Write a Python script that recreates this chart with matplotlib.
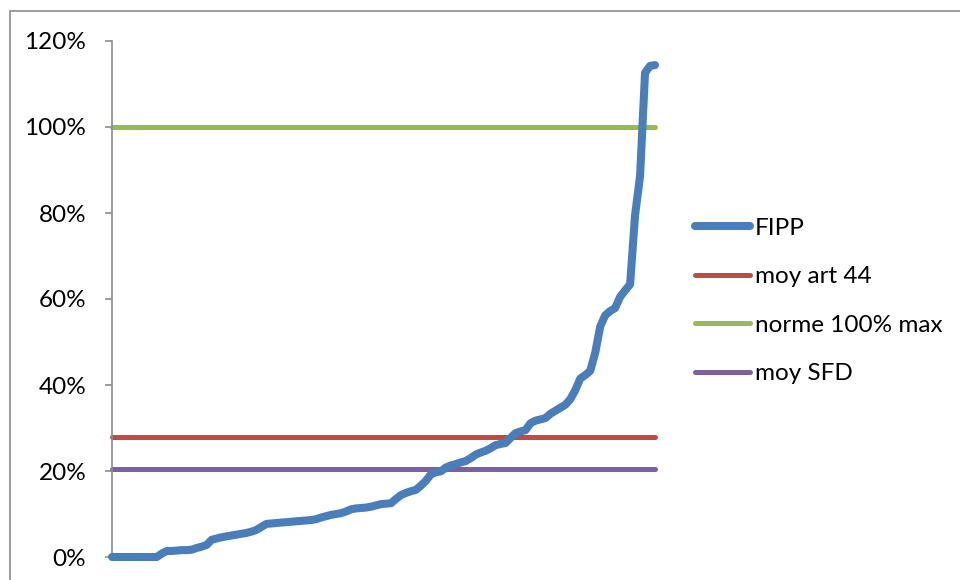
import matplotlib
matplotlib.use("Agg")
import matplotlib.pyplot as plt
from matplotlib.patches import Rectangle
from matplotlib.ticker import FuncFormatter, MultipleLocator

# FIPP ratio per entity, sorted ascending (fraction of the norm)
fipp = [
    0.000, 0.000, 0.000, 0.000, 0.000, 0.000, 0.000, 0.000, 0.000, 0.000,
    0.008, 0.014, 0.014, 0.015, 0.016, 0.016, 0.017, 0.021, 0.024, 0.028,
    0.040, 0.043, 0.046, 0.048, 0.050, 0.052, 0.054, 0.056, 0.059, 0.063,
    0.070, 0.077, 0.078, 0.079, 0.080, 0.081, 0.082, 0.083, 0.084, 0.085,
    0.086, 0.088, 0.092, 0.095, 0.098, 0.100, 0.102, 0.106, 0.111, 0.113,
    0.114, 0.115, 0.117, 0.120, 0.123, 0.124, 0.125, 0.135, 0.144, 0.149,
    0.153, 0.156, 0.166, 0.177, 0.192, 0.197, 0.199, 0.208, 0.213, 0.216,
    0.220, 0.223, 0.230, 0.238, 0.243, 0.247, 0.253, 0.260, 0.263, 0.265,
    0.277, 0.288, 0.292, 0.295, 0.311, 0.317, 0.320, 0.323, 0.333, 0.340,
    0.347, 0.354, 0.367, 0.388, 0.415, 0.423, 0.433, 0.475, 0.536, 0.562,
    0.572, 0.579, 0.605, 0.620, 0.634, 0.795, 0.886, 1.126, 1.142, 1.144,
]
moy_art44 = 0.279
norme_max = 1.00
moy_sfd = 0.205

labels = ["FIPP", "moy art 44", "norme 100% max", "moy SFD"]
colors = ["#4A7EBB", "#BE4B48", "#98B954", "#7D60A0"]

plt.rcParams["font.family"] = ["Lato", "DejaVu Sans"]
FS = 17.5

W, H = 960, 580
fig = plt.figure(figsize=(W / 100, H / 100), dpi=100)
fig.patch.set_facecolor("white")

# chart area border
fig.patches.append(Rectangle((10 / W, -10 / H), 970 / W, (H - 11 + 10) / H,
                             transform=fig.transFigure, fill=False,
                             edgecolor="#8C8C8C", linewidth=1.2))

ax = fig.add_axes([112 / W, (H - 557) / H, (655 - 112) / W, (557 - 41) / H])
ax.set_facecolor("none")

x = list(range(len(fipp)))
n = len(fipp)

ax.plot(x, fipp, color=colors[0], lw=5.8, solid_capstyle="round",
        solid_joinstyle="round", clip_on=False, label=labels[0], zorder=3)
ax.plot(x, [moy_art44] * n, color=colors[1], lw=3.6, solid_capstyle="round",
        clip_on=False, label=labels[1], zorder=2)
ax.plot(x, [norme_max] * n, color=colors[2], lw=3.6, solid_capstyle="round",
        clip_on=False, label=labels[2], zorder=2)
ax.plot(x, [moy_sfd] * n, color=colors[3], lw=3.6, solid_capstyle="round",
        clip_on=False, label=labels[3], zorder=2)

ax.set_xlim(0, n - 1)
ax.set_ylim(0, 1.2)
ax.yaxis.set_major_locator(MultipleLocator(0.2))
ax.yaxis.set_major_formatter(FuncFormatter(lambda v, p: f"{v * 100:.0f}%"))
ax.set_xticks([])

for s in ["top", "right", "bottom"]:
    ax.spines[s].set_visible(False)
ax.spines["left"].set_color("#8C8C8C")
ax.spines["left"].set_linewidth(1.2)
ax.tick_params(axis="y", direction="out", length=5, width=1.2, color="#8C8C8C",
               labelsize=FS, labelcolor="black", pad=13.5)

leg = fig.legend(loc="upper left", bbox_to_anchor=(685 / W, 1 - 208 / H),
                 frameon=False, fontsize=FS, handlelength=2.26,
                 handletextpad=0.2, labelspacing=1.13, borderaxespad=0)
for line in leg.get_lines():
    line.set_solid_capstyle("round")

fig.savefig("out.png", dpi=100, facecolor="white")
